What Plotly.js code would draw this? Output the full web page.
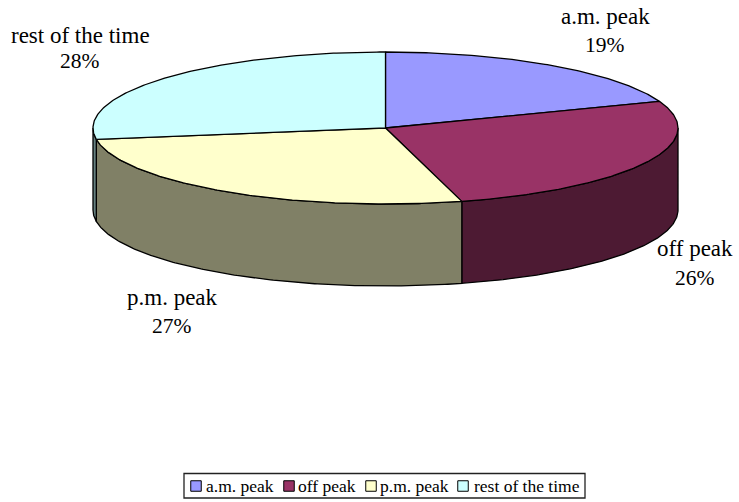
<!DOCTYPE html>
<html><head><meta charset="utf-8">
<script src="https://cdn.plot.ly/plotly-3.0.1.min.js"></script>
<style>html,body{margin:0;padding:0;background:#fff}</style>
</head><body><div id="chart" style="width:739px;height:502px"></div>
<script>
const categories = ["a.m. peak","off peak","p.m. peak","rest of the time"];
const shares = [19.3, 26.5, 26.8, 27.4];
const percentLabels = ["19%","26%","27%","28%"];
const topColors = ["#9999FF","#993366","#FFFFCC","#CCFFFF"];
const wallColors = ["#4D4D80","#4D1A33","#808066","#668080"];
const labelX = [605,695,172,80];
const nameY = [16,248,297,35];
const percentY = [45,278,326,61];
const swatchX = [196,289,371,463];
const legendTextX = [206,298,380,474];
const legendY = 486;
const cx=385.5, cy=128, rx=292.5, ry=76, depth=82;
const pt=(t,dy)=>[cx+rx*Math.sin(t), cy-ry*Math.cos(t)+(dy||0)];
function arc(a,b,dy){const n=Math.max(2,Math.ceil((b-a)/0.01));const o=[];for(let i=0;i<=n;i++)o.push(pt(a+(b-a)*i/n,dy));return o;}
const total=shares.reduce((s,v)=>s+v,0);
const walls=[],tops=[];let acc=0;
const line={color:"#000",width:1.3};
shares.forEach((v,i)=>{
  const a=acc/total*2*Math.PI;acc+=v;const b=acc/total*2*Math.PI;
  const p=arc(a,b).concat([[cx,cy]]);p.push(p[0]);
  tops.push({type:"scatter",mode:"lines",x:p.map(q=>q[0]),y:p.map(q=>q[1]),fill:"toself",fillcolor:topColors[i],line,name:categories[i],hoverinfo:"name"});
  const s=Math.max(a,Math.PI/2),e=Math.min(b,3*Math.PI/2);
  if(e>s){const f=arc(s,e).concat(arc(s,e,depth).reverse());f.push(f[0]);
    walls.push({type:"scatter",mode:"lines",x:f.map(q=>q[0]),y:f.map(q=>q[1]),fill:"toself",fillcolor:wallColors[i],line,hoverinfo:"skip"});}
});
const family="Liberation Serif, Times New Roman, serif";
const annotations=[];
categories.forEach((c,i)=>{
  annotations.push({x:labelX[i],y:nameY[i],text:c,showarrow:false,font:{family,size:23,color:"#000"},xanchor:"center",yanchor:"middle"});
  annotations.push({x:labelX[i],y:percentY[i],text:percentLabels[i],showarrow:false,font:{family,size:21.5,color:"#000"},xanchor:"center",yanchor:"middle"});
  annotations.push({x:legendTextX[i],y:legendY,text:c,showarrow:false,font:{family,size:17.5,color:"#000"},xanchor:"left",yanchor:"middle",xshift:-2});
});
const swatches={type:"scatter",mode:"markers",x:swatchX,y:swatchX.map(()=>legendY),hoverinfo:"skip",
  marker:{symbol:"square",size:10.5,color:topColors,line:{color:"#000",width:1}}};
const axis={visible:false,fixedrange:true};
Plotly.newPlot("chart",walls.concat(tops,[swatches]),{
  width:739,height:502,margin:{l:0,r:0,t:0,b:0},paper_bgcolor:"#fff",plot_bgcolor:"#fff",showlegend:false,
  xaxis:{...axis,range:[0,739]},yaxis:{...axis,range:[502,0]},annotations,
  shapes:[{type:"rect",xref:"x",yref:"y",x0:184,x1:585,y0:473.5,y1:498,line:{color:"#222",width:1.3},fillcolor:"#fff",layer:"below"}]
},{displayModeBar:false,staticPlot:true});
</script></body></html>
